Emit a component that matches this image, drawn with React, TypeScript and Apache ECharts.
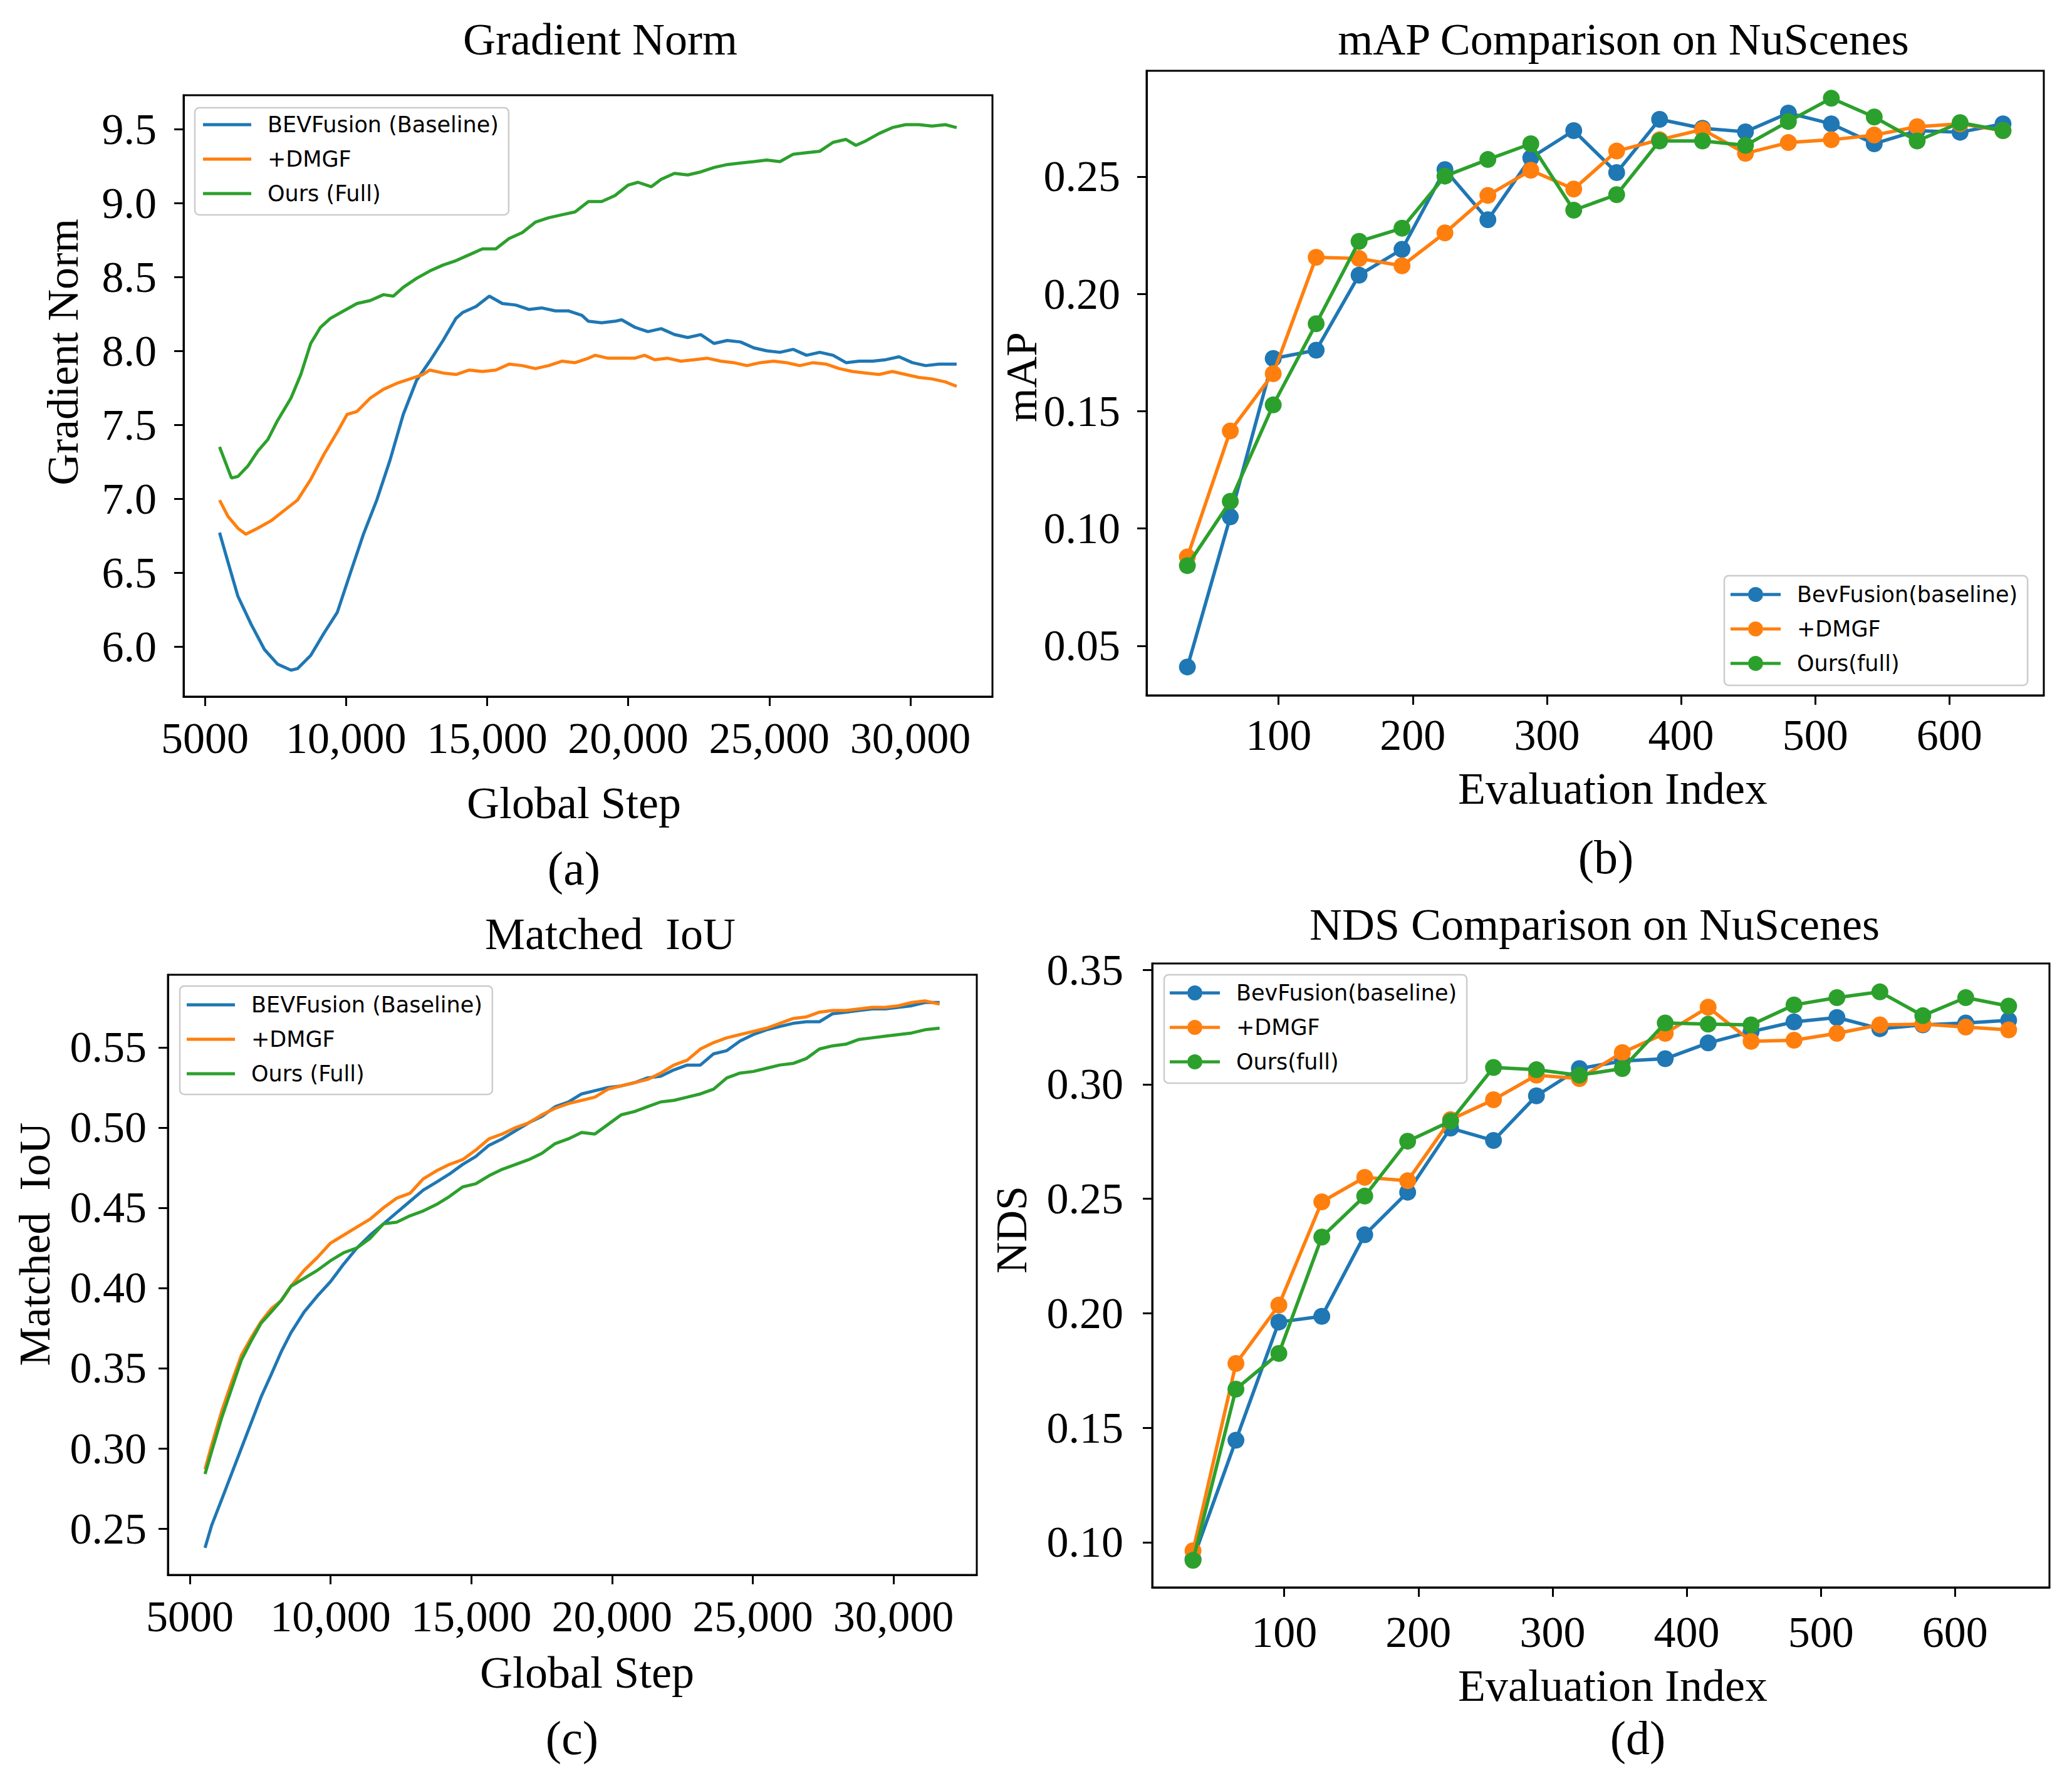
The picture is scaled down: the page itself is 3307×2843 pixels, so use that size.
import React, { useEffect, useRef } from "react";
import * as echarts from "echarts";

const COLORS = ["#1f77b4", "#ff7f0e", "#2ca02c"];
const SERIF = "Liberation Serif";
const SANS = "DejaVu Sans";

const namesAC = ["BEVFusion (Baseline)", "+DMGF", "Ours (Full)"];
const namesBD = ["BevFusion(baseline)", "+DMGF", "Ours(full)"];

// ---- (a) Gradient Norm : [global step, value]
const gradBaseline: [number, number][] = [
  [5520, 6.77], [5820, 6.57], [6170, 6.34], [6640, 6.15], [7110, 5.98], [7580, 5.88], [8050, 5.84],
  [8280, 5.85], [8750, 5.94], [9220, 6.09], [9690, 6.23], [10160, 6.5], [10620, 6.76], [11090, 6.99],
  [11560, 7.26], [12030, 7.57], [12500, 7.8], [12970, 7.93], [13440, 8.07], [13900, 8.22], [14140, 8.26],
  [14610, 8.3], [15080, 8.37], [15540, 8.32], [16010, 8.31], [16480, 8.28], [16950, 8.29], [17420, 8.27],
  [17890, 8.27], [18360, 8.24], [18590, 8.2], [19060, 8.19], [19530, 8.2], [19770, 8.21], [20230, 8.16],
  [20700, 8.13], [21170, 8.15], [21640, 8.11], [22110, 8.09], [22570, 8.11], [23040, 8.05], [23510, 8.07],
  [23980, 8.06], [24450, 8.02], [24910, 8.0], [25380, 7.99], [25850, 8.01], [26320, 7.97], [26790, 7.99],
  [27260, 7.97], [27720, 7.92], [28190, 7.93], [28660, 7.93], [29130, 7.94], [29600, 7.96], [30070, 7.92],
  [30540, 7.9], [31010, 7.91], [31640, 7.91],
];
const gradDmgf: [number, number][] = [
  [5520, 6.99], [5820, 6.88], [6170, 6.8], [6450, 6.76], [6870, 6.8], [7340, 6.85], [7810, 6.92],
  [8280, 6.99], [8750, 7.13], [9220, 7.3], [9690, 7.45], [10040, 7.57], [10390, 7.59], [10860, 7.68],
  [11330, 7.74], [11800, 7.78], [12270, 7.81], [12730, 7.84], [12970, 7.87], [13440, 7.85], [13900, 7.84],
  [14370, 7.87], [14840, 7.86], [15310, 7.87], [15780, 7.91], [16250, 7.9], [16710, 7.88], [17180, 7.9],
  [17650, 7.93], [18120, 7.92], [18590, 7.95], [18830, 7.97], [19290, 7.95], [19770, 7.95], [20230, 7.95],
  [20580, 7.97], [20940, 7.94], [21400, 7.95], [21870, 7.93], [22340, 7.94], [22810, 7.95], [23280, 7.93],
  [23740, 7.92], [24210, 7.9], [24680, 7.92], [25150, 7.93], [25610, 7.92], [26080, 7.9], [26550, 7.92],
  [27020, 7.91], [27480, 7.88], [27950, 7.86], [28420, 7.85], [28890, 7.84], [29360, 7.86], [29830, 7.84],
  [30300, 7.82], [30770, 7.81], [31240, 7.79], [31640, 7.76],
];
const gradOurs: [number, number][] = [
  [5520, 7.35], [5700, 7.26], [5940, 7.14], [6170, 7.15], [6520, 7.22], [6870, 7.32], [7230, 7.4],
  [7580, 7.53], [8050, 7.68], [8400, 7.84], [8750, 8.05], [9100, 8.16], [9450, 8.22], [9920, 8.27],
  [10390, 8.32], [10860, 8.34], [11330, 8.38], [11680, 8.37], [12030, 8.43], [12500, 8.49], [12970, 8.54],
  [13440, 8.58], [13900, 8.61], [14370, 8.65], [14840, 8.69], [15310, 8.69], [15780, 8.76], [16250, 8.8],
  [16710, 8.87], [17180, 8.9], [17650, 8.92], [18120, 8.94], [18590, 9.01], [19060, 9.01], [19530, 9.05],
  [19990, 9.12], [20350, 9.14], [20820, 9.11], [21170, 9.16], [21640, 9.2], [22110, 9.19], [22570, 9.21],
  [23040, 9.24], [23510, 9.26], [23980, 9.27], [24450, 9.28], [24910, 9.29], [25380, 9.28], [25850, 9.33],
  [26320, 9.34], [26790, 9.35], [27260, 9.41], [27720, 9.43], [28070, 9.39], [28420, 9.42], [28890, 9.47],
  [29360, 9.51], [29830, 9.53], [30300, 9.53], [30770, 9.52], [31240, 9.53], [31640, 9.51],
];

// ---- (c) Matched IoU : [global step, value]
const iouSteps = [
  5540, 5775, 6130, 6480, 6830, 7180, 7530, 7890, 8240, 8590, 9060, 9530, 10000, 10470, 10940, 11410,
  11880, 12350, 12820, 13290, 13760, 14220, 14690, 15160, 15630, 16100, 16570, 17040, 17510, 17980,
  18450, 18920, 19390, 19860, 20330, 20800, 21260, 21730, 22200, 22670, 23140, 23610, 24080, 24550,
  25020, 25490, 25960, 26430, 26900, 27370, 27840, 28310, 28780, 29250, 29710, 30180, 30650, 31120, 31640,
];
const iouBaseline = [
  0.238, 0.252, 0.268, 0.284, 0.3, 0.316, 0.332, 0.346, 0.36, 0.372, 0.385, 0.395, 0.404, 0.415, 0.425,
  0.433, 0.44, 0.447, 0.454, 0.461, 0.466, 0.471, 0.477, 0.482, 0.489, 0.493, 0.498, 0.503, 0.507, 0.513,
  0.516, 0.521, 0.523, 0.525, 0.526, 0.528, 0.531, 0.532, 0.536, 0.539, 0.539, 0.546, 0.548, 0.554, 0.558,
  0.561, 0.563, 0.565, 0.566, 0.566, 0.571, 0.572, 0.573, 0.574, 0.574, 0.575, 0.576, 0.578, 0.578,
];
const iouDmgf = [
  0.287, 0.302, 0.323, 0.341, 0.358, 0.369, 0.379, 0.387, 0.392, 0.401, 0.411, 0.419, 0.428, 0.433, 0.438,
  0.443, 0.45, 0.456, 0.459, 0.468, 0.473, 0.477, 0.48, 0.486, 0.493, 0.496, 0.5, 0.503, 0.508, 0.512,
  0.515, 0.517, 0.519, 0.524, 0.526, 0.528, 0.53, 0.534, 0.539, 0.542, 0.549, 0.553, 0.556, 0.558, 0.56,
  0.562, 0.565, 0.568, 0.569, 0.572, 0.573, 0.573, 0.574, 0.575, 0.575, 0.576, 0.578, 0.579, 0.577,
];
const iouOurs = [
  0.284, 0.298, 0.319, 0.337, 0.355, 0.367, 0.378, 0.385, 0.392, 0.401, 0.406, 0.411, 0.417, 0.422, 0.425,
  0.431, 0.44, 0.441, 0.445, 0.448, 0.452, 0.457, 0.463, 0.465, 0.47, 0.474, 0.477, 0.48, 0.484, 0.49,
  0.493, 0.497, 0.496, 0.502, 0.508, 0.51, 0.513, 0.516, 0.517, 0.519, 0.521, 0.524, 0.531, 0.534, 0.535,
  0.537, 0.539, 0.54, 0.543, 0.549, 0.551, 0.552, 0.555, 0.556, 0.557, 0.558, 0.559, 0.561, 0.562,
];

// ---- (b) mAP and (d) NDS : evaluation index
const evalIndex = [32, 64, 96, 128, 160, 192, 224, 256, 288, 320, 352, 384, 416, 448, 480, 512, 544, 576, 608, 640];
const mapBaseline = [0.041, 0.105, 0.1725, 0.176, 0.208, 0.219, 0.253, 0.2316, 0.258, 0.2696, 0.2517, 0.2744, 0.2706, 0.2691, 0.2771, 0.2725, 0.264, 0.2696, 0.2689, 0.2725];
const mapDmgf = [0.0879, 0.1416, 0.166, 0.2156, 0.2151, 0.212, 0.226, 0.242, 0.2527, 0.2447, 0.2609, 0.2657, 0.2701, 0.2599, 0.2645, 0.2657, 0.2677, 0.2713, 0.2725, 0.2696];
const mapOurs = [0.0842, 0.1116, 0.1527, 0.1873, 0.2224, 0.228, 0.2502, 0.2573, 0.264, 0.2357, 0.2423, 0.2652, 0.2652, 0.2633, 0.2735, 0.2834, 0.2754, 0.2652, 0.273, 0.2696];
const ndsBaseline = [0.0926, 0.1446, 0.1962, 0.1987, 0.2343, 0.2529, 0.2809, 0.2755, 0.295, 0.3069, 0.3102, 0.3112, 0.3181, 0.323, 0.3273, 0.3292, 0.3243, 0.326, 0.3268, 0.328];
const ndsDmgf = [0.0963, 0.1781, 0.2036, 0.2487, 0.2594, 0.2579, 0.2846, 0.2933, 0.304, 0.3025, 0.3139, 0.3223, 0.3337, 0.3188, 0.3193, 0.3223, 0.326, 0.3263, 0.325, 0.3238];
const ndsOurs = [0.0921, 0.1669, 0.1825, 0.2333, 0.2512, 0.2752, 0.2839, 0.3074, 0.3064, 0.304, 0.3069, 0.3268, 0.3263, 0.326, 0.3347, 0.3379, 0.3404, 0.33, 0.3379, 0.3342];

// ---- ticks
const stepTicks = [5000, 10000, 15000, 20000, 25000, 30000];
const gradTicks = [6.0, 6.5, 7.0, 7.5, 8.0, 8.5, 9.0, 9.5];
const iouTicks = [0.25, 0.3, 0.35, 0.4, 0.45, 0.5, 0.55];
const evalTicks = [100, 200, 300, 400, 500, 600];
const mapTicks = [0.05, 0.1, 0.15, 0.2, 0.25];
const ndsTicks = [0.1, 0.15, 0.2, 0.25, 0.3, 0.35];

const stepFmt = (v: number) => (v < 10000 ? String(v) : v.toLocaleString("en-US"));

// legend icon: line with a dot in the middle (80 x 24 box)
const LINE_DOT_ICON = "path://M0,9.5h28v5h-28z M52,9.5h28v5h-28z M28,12a12,12 0 1,1 24,0a12,12 0 1,1 -24,0z";

function axis(gridIndex: number, min: number, max: number, ticks: number[], fmt: (v: number) => string, margin: number) {
  return {
    type: "value",
    gridIndex,
    min,
    max,
    splitLine: { show: false },
    axisLine: { show: true, onZero: false, lineStyle: { color: "#000", width: 3 } },
    axisTick: { show: true, inside: false, length: 15, customValues: ticks, lineStyle: { color: "#000", width: 3 } },
    axisLabel: { show: true, customValues: ticks, formatter: fmt, margin, fontFamily: SERIF, fontSize: 70, color: "#000" },
  };
}

function legend(prefix: string, names: string[], left: number, top: number, pad: number[], withMarker: boolean) {
  return {
    orient: "vertical",
    left,
    top,
    data: names.map((_, i) => prefix + i),
    formatter: (n: string) => names[Number(n.slice(prefix.length))],
    icon: withMarker ? LINE_DOT_ICON : "rect",
    itemWidth: withMarker ? 80 : 77,
    itemHeight: withMarker ? 24 : 5,
    itemGap: 15,
    padding: pad,
    backgroundColor: "rgba(255,255,255,0.8)",
    borderColor: "#cccccc",
    borderWidth: 2.5,
    borderRadius: 7,
    selectedMode: false,
    textStyle: { fontFamily: SANS, fontSize: 35, color: "#000", lineHeight: 40, padding: [0, 0, 0, 21] },
  };
}

function text(t: string, x: number, y: number, size: number, rotate = false) {
  return {
    type: "text",
    x,
    y,
    rotation: rotate ? Math.PI / 2 : 0,
    style: { text: t, fontFamily: SERIF, fontSize: size, fill: "#000", align: "center", verticalAlign: "middle" },
  };
}

function App() {
  const ref = useRef<HTMLDivElement>(null);
  useEffect(() => {
    document.body.style.margin = "0";
    const chart = echarts.init(ref.current!, null, { renderer: "svg" });
    const lineSeries = (prefix: string, idx: number, axisIdx: number, data: [number, number][]) => ({
      type: "line",
      name: prefix + idx,
      xAxisIndex: axisIdx,
      yAxisIndex: axisIdx,
      data,
      symbol: "none",
      lineStyle: { color: COLORS[idx], width: 5 },
      itemStyle: { color: COLORS[idx] },
      z: 2 + idx,
    });
    const dotSeries = (prefix: string, idx: number, axisIdx: number, vals: number[]) => ({
      type: "line",
      name: prefix + idx,
      xAxisIndex: axisIdx,
      yAxisIndex: axisIdx,
      data: evalIndex.map((x, i) => [x, vals[i]]),
      symbol: "circle",
      symbolSize: 27,
      lineStyle: { color: COLORS[idx], width: 5.5 },
      itemStyle: { color: COLORS[idx] },
      z: 2 + idx,
    });
    const zip = (xs: number[], ys: number[]) => xs.map((x, i) => [x, ys[i]] as [number, number]);
    const option: any = {
      animation: false,
      backgroundColor: "#fff",
      grid: [
        { left: 293, top: 152, width: 1291, height: 960, show: true, borderColor: "#000", borderWidth: 3 },
        { left: 1830, top: 113, width: 1432, height: 997, show: true, borderColor: "#000", borderWidth: 3 },
        { left: 268, top: 1556, width: 1291, height: 958, show: true, borderColor: "#000", borderWidth: 3 },
        { left: 1839, top: 1538, width: 1432, height: 996, show: true, borderColor: "#000", borderWidth: 3 },
      ],
      xAxis: [
        axis(0, 4245, 32909, stepTicks, stepFmt, 31),
        axis(1, 1.6, 670.4, evalTicks, (v) => String(v), 28),
        axis(2, 4221, 32961, stepTicks, stepFmt, 31),
        axis(3, 1.6, 670.4, evalTicks, (v) => String(v), 36),
      ],
      yAxis: [
        axis(0, 5.661, 9.729, gradTicks, (v) => v.toFixed(1), 43),
        axis(1, 0.0289, 0.2951, mapTicks, (v) => v.toFixed(2), 42),
        axis(2, 0.2211, 0.5953, iouTicks, (v) => v.toFixed(2), 34),
        axis(3, 0.0803, 0.3528, ndsTicks, (v) => v.toFixed(2), 46),
      ],
      legend: [
        legend("a", namesAC, 311, 172, [7, 16, 14, 13], false),
        legend("b", namesBD, 2752, 919, [10, 16, 15, 10], true),
        legend("c", namesAC, 287, 1574, [10, 16, 13, 11], false),
        legend("d", namesBD, 1858, 1556, [9, 16, 14, 9], true),
      ],
      series: [
        lineSeries("a", 0, 0, gradBaseline),
        lineSeries("a", 1, 0, gradDmgf),
        lineSeries("a", 2, 0, gradOurs),
        dotSeries("b", 0, 1, mapBaseline),
        dotSeries("b", 1, 1, mapDmgf),
        dotSeries("b", 2, 1, mapOurs),
        lineSeries("c", 0, 2, zip(iouSteps, iouBaseline)),
        lineSeries("c", 1, 2, zip(iouSteps, iouDmgf)),
        lineSeries("c", 2, 2, zip(iouSteps, iouOurs)),
        dotSeries("d", 0, 3, ndsBaseline),
        dotSeries("d", 1, 3, ndsDmgf),
        dotSeries("d", 2, 3, ndsOurs),
      ],
      graphic: [
        text("Gradient Norm", 958, 63, 72),
        text("mAP Comparison on NuScenes", 2591, 63, 72),
        text("Matched  IoU", 974, 1491, 72),
        text("NDS Comparison on NuScenes", 2545, 1476, 72),
        text("Gradient Norm", 100, 562, 70, true),
        text("mAP", 1630, 602, 70, true),
        text("Matched  IoU", 55, 1986, 70, true),
        text("NDS", 1614, 1963, 70, true),
        text("Global Step", 916, 1282, 72),
        text("Evaluation Index", 2574, 1259, 72),
        text("Global Step", 937, 2670, 72),
        text("Evaluation Index", 2574, 2691, 72),
        text("(a)", 916, 1386, 76),
        text("(b)", 2563, 1368, 76),
        text("(c)", 913, 2774, 76),
        text("(d)", 2614, 2774, 76),
      ],
    };
    chart.setOption(option);
    return () => chart.dispose();
  }, []);
  return <div ref={ref} style={{ width: 3307, height: 2843 }} />;
}

export default App;
